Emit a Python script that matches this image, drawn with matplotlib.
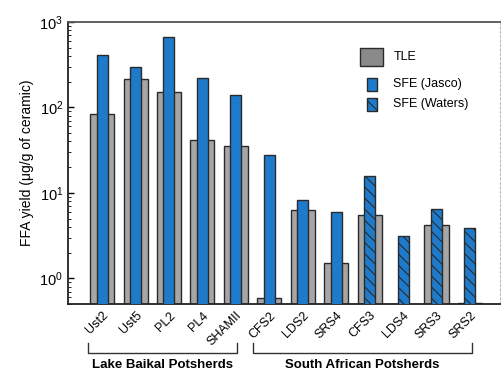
import numpy as np
import matplotlib
matplotlib.use("Agg")
import matplotlib.pyplot as plt
from matplotlib.patches import Rectangle
from matplotlib.transforms import ScaledTranslation

plt.rcParams['font.family'] = ['Liberation Sans', 'DejaVu Sans']
plt.rcParams['hatch.color'] = '#1a2a3a'
plt.rcParams['hatch.linewidth'] = 0.8

categories = ["Ust2", "Ust5", "PL2", "PL4", "SHAMII", "CFS2", "LDS2", "SRS4",
              "CFS3", "LDS4", "SRS3", "SRS2"]
tle = [83, 218, 153, 42, 35, 0.58, 6.3, 1.5, 5.5, np.nan, 4.2, 0.51]
sfe_jasco = [415, 300, 670, 224, 138, 27.6, 8.3, 6.0, np.nan, np.nan, np.nan, np.nan]
sfe_waters = [np.nan, np.nan, np.nan, np.nan, np.nan, np.nan, np.nan, np.nan,
              15.8, 3.1, 6.5, 3.9]
groups = ["Lake Baikal Potsherds", "South African Potsherds"]
group_spans = [(0, 4), (5, 11)]

W, H = 501, 370
fig = plt.figure(figsize=(W / 100, H / 100), dpi=100)
ax = fig.add_axes([68 / W, 1 - 304 / H, (500 - 68) / W, (304 - 22) / H])
ax.set_yscale('log')

x = np.arange(len(categories))
gray = '#a6a6a6'
blue = '#1e7bcb'
edge = '#2a2a2a'
ax.bar(x, tle, width=0.72, bottom=0.01, color=gray, edgecolor=edge, linewidth=1.0, zorder=2)
ax.bar(x, sfe_jasco, width=0.33, bottom=0.01, color=blue, edgecolor=edge, linewidth=1.0, zorder=3)
ax.bar(x, sfe_waters, width=0.33, bottom=0.01, color=blue, edgecolor=edge, linewidth=1.0,
       hatch='\\\\\\', zorder=3)

ax.set_ylim(0.5, 1000)
ax.set_xlim(-1.02, 11.9)

ax.set_xticks(x)
ax.set_xticklabels(categories, rotation=45, ha='right', rotation_mode='anchor', fontsize=9)
offset = ScaledTranslation(7.5 / 72, -1 / 72, fig.dpi_scale_trans)
for lab in ax.get_xticklabels():
    lab.set_transform(lab.get_transform() + offset)
ax.tick_params(axis='x', length=0, pad=4)
ax.tick_params(axis='y', which='both', direction='in', right=False, labelsize=10.5)
ax.tick_params(axis='y', which='major', length=4, width=1)
ax.tick_params(axis='y', which='minor', length=2, width=0.6)

for s in ['left', 'bottom', 'top']:
    ax.spines[s].set_linewidth(1.3)
    ax.spines[s].set_color('#222222')
ax.spines['top'].set_color('#555555')
ax.spines['right'].set_color('#bbbbbb')
ax.spines['right'].set_linestyle((0, (2, 2)))
ax.spines['right'].set_linewidth(0.8)

ax.set_ylabel("FFA yield (μg/g of ceramic)", fontsize=10, labelpad=4)

# legend (manual)
ax.add_patch(Rectangle((0.677, 0.845), 0.053, 0.064, transform=ax.transAxes,
                       facecolor='#8a8a8a', edgecolor=edge, linewidth=1.0, clip_on=False))
ax.add_patch(Rectangle((0.691, 0.757), 0.024, 0.046, transform=ax.transAxes,
                       facecolor=blue, edgecolor=edge, linewidth=1.0, clip_on=False))
ax.add_patch(Rectangle((0.691, 0.686), 0.024, 0.046, transform=ax.transAxes,
                       facecolor=blue, edgecolor=edge, linewidth=1.0, hatch='\\\\\\', clip_on=False))
ax.text(0.753, 0.877, "TLE", transform=ax.transAxes, fontsize=9, va='center')
ax.text(0.753, 0.78, "SFE (Jasco)", transform=ax.transAxes, fontsize=9, va='center')
ax.text(0.753, 0.709, "SFE (Waters)", transform=ax.transAxes, fontsize=9, va='center')

# group brackets
tr = ax.get_xaxis_transform()
for (a, b), name, (xl, xr) in zip(group_spans, groups, [(-0.42, 4.02), (4.5, 11.05)]):
    yb = -0.175
    ax.plot([xl, xl, xr, xr], [yb + 0.035, yb, yb, yb + 0.035], transform=tr,
            color='#333333', linewidth=1.0, clip_on=False)
    ax.text((xl + xr) / 2, yb - 0.02, name, transform=tr, ha='center', va='top',
            fontsize=9.5, fontweight='bold')

fig.savefig("out.png", dpi=100, facecolor='white')
